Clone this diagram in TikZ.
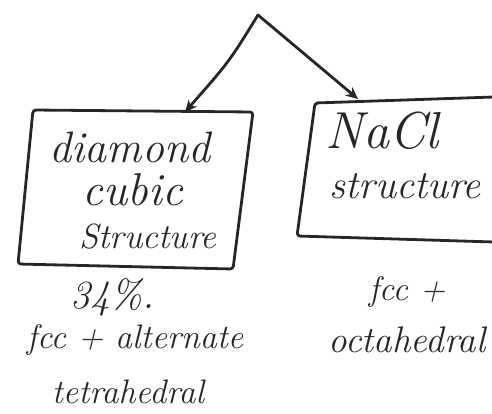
\documentclass[tikz,border=0pt]{standalone}
\usetikzlibrary{arrows.meta}
\begin{document}
\begin{tikzpicture}[x=1pt,y=-1pt,
  ink/.style={line width=2.8pt,line join=round,line cap=round,black!85},
  arr/.style={ink,-{Stealth[length=12pt,width=11pt]}},
  hand/.style={font=\fontsize{#1}{#1}\selectfont\itshape,inner sep=0pt,text=black!85}]
\useasboundingbox (0,0) rectangle (492,414);
% apex and arrow targets
\coordinate (apex) at (258,15);
\coordinate (ltgt) at (185,112);
\coordinate (rtgt) at (358,99);
\draw[arr] (apex) .. controls (229,62) .. (ltgt);
\draw[arr] (apex) -- (rtgt);
% left box
\draw[ink,rounded corners=3pt] (33,110) -- (253,112) -- (233,269) -- (18,264) -- cycle;
\node[hand=44] (d1) at (130,147) {diamond};
\node[hand=46] (d2) at (133,190) {cubic};
\node[hand=35] (d3) at (148,237) {Structure};
% right box
\draw[ink,rounded corners=3pt] (494,97) -- (315,103) -- (297,236) -- (494,242);
\node[hand=52] (n1) at (382,131) {NaCl};
\node[hand=40] (n2) at (405,186) {structure};
% bottom texts
\node[hand=40] (b1) at (112,297) {34\%.};
\node[hand=34] (b2) at (135,340) {fcc + alternate};
\node[hand=34] (b3) at (128,392) {tetrahedral};
\node[hand=34] (b4) at (407,292) {fcc +};
\node[hand=37] (b5) at (407,340) {octahedral};
\end{tikzpicture}
\end{document}
